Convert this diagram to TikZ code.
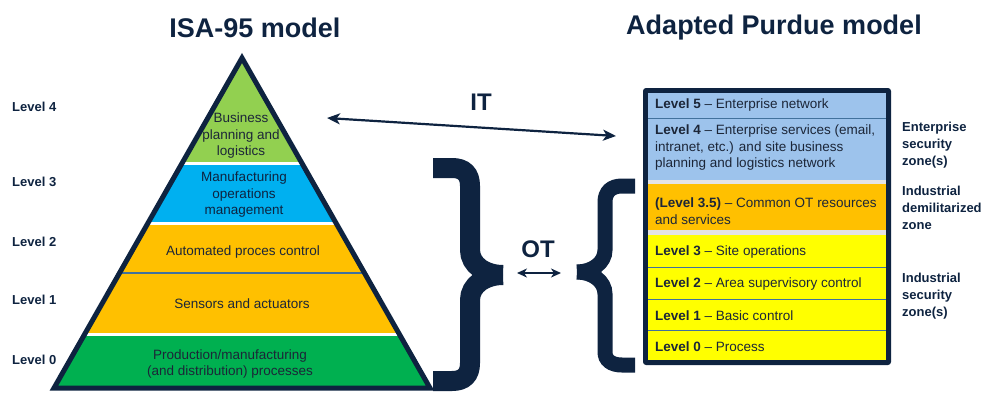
\documentclass[tikz,border=0pt]{standalone}
\usepackage{fontspec}
\setmainfont{Liberation Sans}
\usepackage{tikz}
\usetikzlibrary{arrows,arrows.meta}
\definecolor{navy}{HTML}{0E2340}
\definecolor{inktext}{HTML}{1C2638}
\definecolor{lgreen}{HTML}{92D050}
\definecolor{cyanblue}{HTML}{00B0F0}
\definecolor{amber}{HTML}{FFC000}
\definecolor{dgreen}{HTML}{00B050}
\definecolor{skyblue}{HTML}{9DC3EC}
\definecolor{lemon}{HTML}{FFFF00}
\definecolor{steel}{HTML}{41719C}
\definecolor{gapgrey}{HTML}{E4E4E4}
\tikzstyle{title} = [font=\fontsize{27}{30}\selectfont\bfseries, text=navy, inner sep=0pt]
\tikzstyle{lvl} = [font=\fontsize{13}{16}\selectfont\bfseries, text=navy, anchor=west, inner sep=0pt]
\tikzstyle{band} = [font=\fontsize{13.5}{16.5}\selectfont, text=inktext, align=center, inner sep=0pt]
\tikzstyle{row} = [font=\fontsize{13.5}{16.5}\selectfont, text=inktext, anchor=west, align=left, inner sep=0pt]
\tikzstyle{zone} = [font=\fontsize{13}{16.8}\selectfont\bfseries, text=navy, anchor=west, align=left, inner sep=0pt]
\tikzstyle{big} = [font=\fontsize{24}{26}\selectfont\bfseries, text=navy, inner sep=0pt]
\tikzstyle{brace} = [draw=navy, line width=20pt, line cap=butt]
\tikzstyle{flow} = [style={<->,>={Stealth[length=13pt,width=11pt,inset=3.5pt]},line width=2.2pt,draw=navy}]
\tikzstyle{sep} = [draw=steel, line width=1.5pt]

\begin{document}
\begin{tikzpicture}[x=1pt,y=-1pt]
    \useasboundingbox (0,0) rectangle (995,404);
    \node[title] (isa) at (255,28) {ISA-95 model};
    \node[title] (purdue) at (774,28) {Adapted Purdue model};

    \coordinate (top) at (242,58);
    \coordinate (bl) at (54,388);
    \coordinate (br) at (430,388);
    \begin{scope}
      \clip (top) -- (br) -- (bl) -- cycle;
      \fill[lgreen] (0,0) rectangle (995,163);
      \fill[cyanblue] (0,163) rectangle (995,223);
      \fill[amber] (0,223) rectangle (995,334);
      \fill[dgreen] (0,334) rectangle (995,404);
      \draw[white, line width=3pt] (0,163) -- (995,163);
      \draw[white, line width=3pt] (0,223) -- (995,223);
      \draw[white, line width=3pt] (0,334) -- (995,334);
      \draw[steel, line width=1.5pt] (0,273) -- (995,273);
    \end{scope}
    \draw[navy, line width=5pt, line join=miter] (top) -- (br) -- (bl) -- cycle;

    \node[band] (b4) at (241,136) {Business\\planning and\\logistics};
    \node[band, text=navy] (b3) at (244,195) {Manufacturing\\operations\\management};
    \node[band] (b2) at (243,252) {Automated proces control};
    \node[band] (b1) at (242,304) {Sensors and actuators};
    \node[band] (b0) at (230,364) {Production/manufacturing\\(and distribution) processes};

    \node[lvl] (l4) at (12,107) {Level 4};
    \node[lvl] (l3) at (12,182) {Level 3};
    \node[lvl] (l2) at (12,242) {Level 2};
    \node[lvl] (l1) at (12,300) {Level 1};
    \node[lvl] (l0) at (12,360) {Level 0};

    \coordinate (itl) at (327,118);
    \coordinate (itr) at (616,136);
    \draw[flow] (itl) -- (itr);
    \node[big] (it) at (481,102) {IT};

    \draw[brace] (433,168) -- (452,168) .. controls (464,168) and (470,174) .. (470,186) -- (470,250) .. controls (470,265) and (485,275) .. (503,275);
    \draw[brace] (503,275) .. controls (485,275) and (470,285) .. (470,300) -- (470,363) .. controls (470,375) and (464,381) .. (452,381) -- (433,381);

    \coordinate (otl) at (517,273);
    \coordinate (otr) at (561,273);
    \draw[flow, line width=1.8pt, >={Stealth[length=10pt,width=9pt,inset=3pt]}] (otl) -- (otr);
    \node[big] (ot) at (538,249) {OT};

    \draw[brace, line width=15pt] (635,186) -- (622,186) .. controls (611,186) and (605,192) .. (605,202) -- (605,250) .. controls (605,263) and (592,272) .. (577,272);
    \draw[brace, line width=15pt] (577,272) .. controls (592,272) and (605,281) .. (605,294) -- (605,352) .. controls (605,360) and (611,365) .. (622,365) -- (635,365);

    \fill[navy, rounded corners=3pt] (643,88) rectangle (891,365);
    \fill[skyblue] (648,93) rectangle (886,180);
    \fill[gapgrey] (648,180) rectangle (886,184);
    \fill[amber] (648,184) rectangle (886,230);
    \fill[gapgrey] (648,230) rectangle (886,235);
    \fill[lemon] (648,235) rectangle (886,360);
    \draw[sep] (648,118.5) -- (886,118.5);
    \draw[sep] (648,267.5) -- (886,267.5);
    \draw[sep] (648,299.5) -- (886,299.5);
    \draw[sep] (648,330.5) -- (886,330.5);

    \node[row] (p5) at (655,105) {\textbf{Level 5} – Enterprise network};
    \node[row] (p4) at (655,148) {\textbf{Level 4} – Enterprise services (email,\\intranet, etc.) and site business\\planning and logistics network};
    \node[row] (p35) at (655,211) {\textbf{(Level 3.5)} – Common OT resources\\and services};
    \node[row] (p3) at (655,252) {\textbf{Level 3} – Site operations};
    \node[row] (p2) at (655,284) {\textbf{Level 2} – Area supervisory control};
    \node[row] (p1) at (655,316) {\textbf{Level 1} – Basic control};
    \node[row] (p0) at (655,347) {\textbf{Level 0} – Process};

    \node[zone] (z1) at (902,145) {Enterprise\\security\\zone(s)};
    \node[zone] (z2) at (902,208) {Industrial\\demilitarized\\zone};
    \node[zone] (z3) at (902,296) {Industrial\\security\\zone(s)};
\end{tikzpicture}
\end{document}
